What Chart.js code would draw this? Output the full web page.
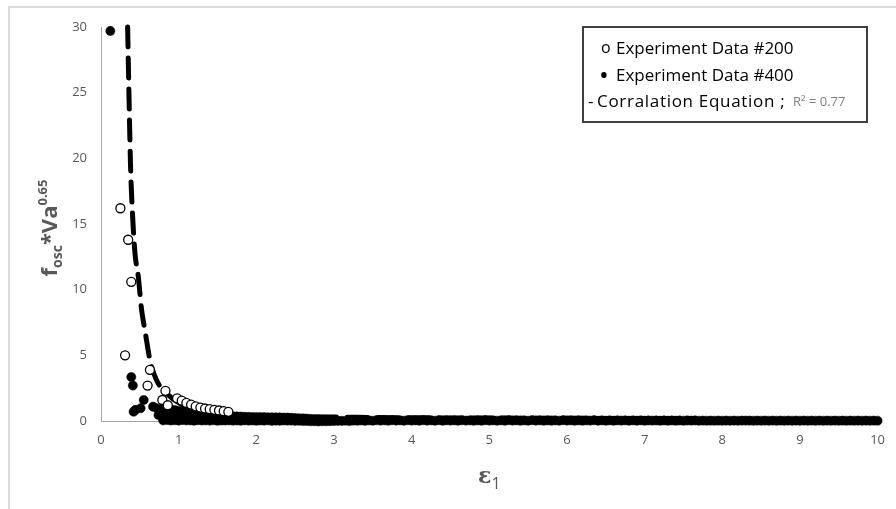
<!DOCTYPE html>
<html>
<head>
<meta charset="utf-8">
<script src="https://cdn.jsdelivr.net/npm/chart.js@4/dist/chart.umd.min.js"></script>
<style>
    body { margin: 0; background: #fff; }
    #wrap { position: relative; width: 896px; height: 509px; overflow: hidden; }
    #frame { position: absolute; left: 8px; top: 6px; width: 1000px; height: 1000px;
             border-left: 2px solid #dcdcdc; border-top: 2px solid #dcdcdc; }
    #oscChart { position: absolute; left: 0; top: 0; }
</style>
</head>
<body>
<div id="wrap">
    <div id="frame"></div>
    <canvas id="oscChart" width="896" height="509"></canvas>
</div>
<script>
/***************************************************************
 * DONNÉES
 ***************************************************************/
const xTicks = [0, 1, 2, 3, 4, 5, 6, 7, 8, 9, 10];
const yTicks = [0, 5, 10, 15, 20, 25, 30];

// Experiment Data #200 (cercles vides)
const exp200X = [0.25, 0.35, 0.39, 0.31, 0.60, 0.63, 0.83, 0.79, 0.86, 0.98,
                 1.04, 1.10, 1.16, 1.22, 1.28, 1.34, 1.40, 1.46, 1.52, 1.58, 1.64];
const exp200Y = [16.2, 13.8, 10.6, 5.0, 2.7, 3.9, 2.3, 1.6, 1.2, 1.73,
                 1.55, 1.38, 1.25, 1.12, 1.02, 0.95, 0.90, 0.85, 0.80, 0.75, 0.70];

// Experiment Data #400 (points pleins) : points isolés
const exp400X = [0.12, 0.39, 0.41, 0.42, 0.44, 0.51, 0.55, 0.67, 0.72, 0.74];
const exp400Y = [29.7, 3.35, 2.7, 0.71, 0.84, 0.97, 1.6, 1.09, 0.97, 0.46];

// #400 : bande dense, rang supérieur
const bandUpperX = [0.8, 0.85, 0.9, 0.95, 1.0, 1.05, 1.1, 1.15, 1.2, 1.25, 1.3, 1.35, 1.4, 1.45,
                    1.5, 1.55, 1.6, 1.65, 1.7, 1.75, 1.8, 1.85, 1.9, 1.95, 2.0, 2.05,
                    2.1, 2.15, 2.2, 2.25, 2.3, 2.35, 2.4, 2.45, 2.5, 2.55, 2.6, 2.65,
                    2.7, 2.75, 2.8, 2.85, 2.9, 2.95, 3.0];
const bandUpperY = [0.95, 0.92, 0.88, 0.83, 0.78, 0.74, 0.70, 0.66, 0.63, 0.60, 0.57, 0.53, 0.50, 0.47,
                    0.45, 0.42, 0.40, 0.38, 0.36, 0.35, 0.33, 0.32, 0.31, 0.30, 0.30, 0.29,
                    0.29, 0.28, 0.28, 0.27, 0.27, 0.26, 0.26, 0.24, 0.23, 0.21, 0.20, 0.18,
                    0.16, 0.14, 0.12, 0.11, 0.10, 0.09, 0.08];

// #400 : rang du milieu
const bandMidX = [0.8, 0.9, 1.0, 1.1, 1.2, 1.3, 1.4];
const bandMidY = [0.45, 0.42, 0.38, 0.35, 0.30, 0.28, 0.25];

// #400 : rang inférieur, de 0.8 à 10
const bandLowX = [0.8, 0.9, 1.0, 1.1, 1.2, 1.3, 1.4, 1.5, 1.6, 1.7, 1.8, 1.9,
                  2.0, 2.1, 2.2, 2.3, 2.4, 2.5, 2.6, 2.7, 2.8, 2.9,
                  3.0, 3.1, 3.2, 3.3, 3.4, 3.5, 3.6, 3.7, 3.8, 3.9,
                  4.0, 4.1, 4.2, 4.3, 4.4, 4.5, 4.6, 4.7, 4.8, 4.9,
                  5.0, 5.1, 5.2, 5.3, 5.4, 5.5, 5.6, 5.7, 5.8, 5.9,
                  6.0, 6.1, 6.2, 6.3, 6.4, 6.5, 6.6, 6.7, 6.8, 6.9,
                  7.0, 7.1, 7.2, 7.3, 7.4, 7.5, 7.6, 7.7, 7.8, 7.9,
                  8.0, 8.1, 8.2, 8.3, 8.4, 8.5, 8.6, 8.7, 8.8, 8.9,
                  9.0, 9.1, 9.2, 9.3, 9.4, 9.5, 9.6, 9.7, 9.8, 9.9, 10.0];
const bandLowY = [0.05, 0.04, 0.03, 0.05, 0.02, 0.04, 0.03, 0.02, 0.04, 0.03, 0.02, 0.03,
                  0.02, 0.03, 0.01, 0.02, 0.03, 0.01, 0.00, -0.02, -0.03, -0.02,
                  0.00, 0.01, 0.00, 0.02, 0.01, 0.02, 0.03, 0.02, 0.03, 0.02,
                  0.03, 0.02, 0.03, 0.02, 0.02, 0.03, 0.02, 0.03, 0.02, 0.02,
                  0.03, 0.02, 0.02, 0.03, 0.02, 0.02, 0.03, 0.02, 0.02, 0.02,
                  0.03, 0.02, 0.02, 0.03, 0.02, 0.02, 0.02, 0.03, 0.02, 0.02,
                  0.02, 0.03, 0.02, 0.02, 0.02, 0.02, 0.03, 0.02, 0.02, 0.02,
                  0.02, 0.02, 0.02, 0.03, 0.02, 0.02, 0.02, 0.02, 0.02, 0.02,
                  0.02, 0.02, 0.02, 0.02, 0.02, 0.02, 0.02, 0.02, 0.02, 0.02, 0.02];

// #400 : rang inférieur décalé (entre les précédents)
const bandLow2X = [0.85, 0.95, 1.05, 1.15, 1.25, 1.35, 1.45, 1.55, 1.65, 1.75, 1.85, 1.95,
                   2.05, 2.15, 2.25, 2.35, 2.45, 2.55, 2.65, 2.75, 2.85, 2.95,
                   3.05, 3.15, 3.25, 3.35, 3.45, 3.55, 3.65, 3.75, 3.85, 3.95,
                   4.05, 4.15, 4.25, 4.35, 4.45, 4.55, 4.65, 4.75, 4.85, 4.95,
                   5.05, 5.15, 5.25, 5.35, 5.45, 5.55, 5.65, 5.75, 5.85, 5.95,
                   6.05, 6.15, 6.25, 6.35, 6.45, 6.55, 6.65, 6.75, 6.85, 6.95,
                   7.05, 7.15, 7.25, 7.35, 7.45, 7.55, 7.65, 7.75, 7.85, 7.95,
                   8.05, 8.15, 8.25, 8.35, 8.45, 8.55, 8.65, 8.75, 8.85, 8.95,
                   9.05, 9.15, 9.25, 9.35, 9.45, 9.55, 9.65, 9.75, 9.85, 9.95];
const bandLow2Y = [0.08, 0.06, 0.07, 0.05, 0.06, 0.05, 0.06, 0.04, 0.05, 0.04, 0.05, 0.04,
                   0.04, 0.05, 0.03, 0.04, 0.03, 0.02, 0.00, -0.02, -0.02, -0.01,
                   0.01, 0.02, 0.03, 0.04, 0.05, 0.06, 0.05, 0.06, 0.05, 0.06,
                   0.05, 0.06, 0.05, 0.06, 0.05, 0.05, 0.06, 0.05, 0.05, 0.06,
                   0.05, 0.05, 0.06, 0.05, 0.05, 0.06, 0.05, 0.05, 0.05, 0.06,
                   0.05, 0.05, 0.05, 0.06, 0.05, 0.05, 0.05, 0.05, 0.05, 0.05,
                   0.04, 0.04, 0.04, 0.04, 0.04, 0.04, 0.04, 0.03, 0.03, 0.03,
                   0.03, 0.03, 0.03, 0.03, 0.03, 0.03, 0.03, 0.03, 0.03, 0.03,
                   0.03, 0.03, 0.03, 0.03, 0.03, 0.03, 0.03, 0.03, 0.03, 0.03];

// Corralation Equation (courbe en tirets)
const corrX = [0.343, 0.364, 0.382, 0.407, 0.437, 0.48, 0.523, 0.566, 0.63, 0.716,
               0.845, 1.015, 1.23, 1.5, 2.0, 2.6, 3.3, 4.3, 5.2, 6.3, 7.6];
const corrY = [30.0, 23.7, 19.1, 15.6, 12.8, 11.0, 8.45, 6.9, 4.65, 3.1,
               2.1, 1.35, 0.84, 0.6, 0.42, 0.33, 0.28, 0.24, 0.22, 0.20, 0.19];

const legendLabels = ["Experiment Data #200", "Experiment Data #400", "Corralation Equation ;"];
const r2Text = "R² = 0.77";

/***************************************************************
 * OUTILS
 ***************************************************************/
const toPoints = (xs, ys) => xs.map((x, i) => ({ x: x, y: ys[i] }));

const AXIS_GREY = "#595959";
const FONT = "'Open Sans', 'DejaVu Sans', sans-serif";

/***************************************************************
 * TITRES D'AXES + LÉGENDE (texte avec indices / exposants)
 ***************************************************************/
function drawRich(ctx, parts, x, y) {
    let cx = x;
    parts.forEach(p => {
        ctx.font = p.font;
        ctx.fillText(p.t, cx, y + (p.dy || 0));
        cx += ctx.measureText(p.t).width;
    });
    return cx - x;
}

function richWidth(ctx, parts) {
    let w = 0;
    parts.forEach(p => { ctx.font = p.font; w += ctx.measureText(p.t).width; });
    return w;
}

const extras = {
    id: "extras",
    afterDraw(chart) {
        const ctx = chart.ctx;
        const area = chart.chartArea;
        ctx.save();
        ctx.textBaseline = "alphabetic";
        ctx.textAlign = "left";

        // titre axe Y : f_osc*Va^0.65
        const yParts = [
            { t: "f", font: "bold 22px " + FONT },
            { t: "osc", font: "bold 14px " + FONT, dy: 5 },
            { t: "*Va", font: "bold 22px " + FONT },
            { t: "0.65", font: "bold 13px " + FONT, dy: -10 }
        ];
        ctx.fillStyle = AXIS_GREY;
        const yw = richWidth(ctx, yParts);
        ctx.translate(57, (area.top + area.bottom) / 2 + 4);
        ctx.rotate(-Math.PI / 2);
        drawRich(ctx, yParts, -yw / 2, 0);
        ctx.setTransform(1, 0, 0, 1, 0, 0);

        // titre axe X : ε1
        const xParts = [
            { t: "ε", font: "bold 22px 'DejaVu Serif', serif" },
            { t: "1", font: "16px " + FONT, dy: 6 }
        ];
        const xw = richWidth(ctx, xParts);
        drawRich(ctx, xParts, (area.left + area.right) / 2 - xw / 2, 483);

        // légende
        const bx = 583, by = 27, bw = 284, bh = 95;
        ctx.fillStyle = "#fff";
        ctx.fillRect(bx, by, bw, bh);
        ctx.strokeStyle = "#404040";
        ctx.lineWidth = 2;
        ctx.strokeRect(bx, by, bw, bh);

        ctx.fillStyle = "#000";
        ctx.font = "16px " + FONT;
        ctx.fillText("o", 601, 53);
        ctx.font = "17px " + FONT;
        ctx.fillText(legendLabels[0], 616, 54);
        ctx.font = "26px " + FONT;
        ctx.fillText("•", 599, 84);
        ctx.font = "17px " + FONT;
        ctx.fillText(legendLabels[1], 616, 81);
        ctx.fillText("-", 588, 107);
        ctx.letterSpacing = "0.7px";
        ctx.fillText(legendLabels[2], 597, 107);
        ctx.letterSpacing = "0px";
        ctx.font = "13px " + FONT;
        ctx.fillStyle = "#7f7f7f";
        ctx.fillText(r2Text, 793, 106);

        ctx.restore();
    }
};

/***************************************************************
 * GRAPHIQUE
 ***************************************************************/
const ctx = document.getElementById("oscChart");

new Chart(ctx, {
    type: "scatter",
    data: {
        datasets: [
            {
                label: legendLabels[0],
                data: toPoints(exp200X, exp200Y),
                pointStyle: "circle",
                pointRadius: 4.5,
                pointBackgroundColor: "#fff",
                pointBorderColor: "#000",
                pointBorderWidth: 1.3,
                clip: false,
                order: 1
            },
            {
                label: legendLabels[1],
                data: toPoints(exp400X, exp400Y)
                    .concat(toPoints(bandUpperX, bandUpperY))
                    .concat(toPoints(bandMidX, bandMidY))
                    .concat(toPoints(bandLowX, bandLowY))
                    .concat(toPoints(bandLow2X, bandLow2Y)),
                pointStyle: "circle",
                pointRadius: 4.6,
                pointBackgroundColor: "#000",
                pointBorderColor: "#000",
                pointBorderWidth: 0.5,
                clip: false,
                order: 2
            },
            {
                label: legendLabels[2],
                type: "line",
                data: toPoints(corrX, corrY),
                showLine: true,
                borderColor: "#000",
                borderWidth: 5,
                borderDash: [20, 11],
                borderCapStyle: "round",
                cubicInterpolationMode: "monotone",
                pointRadius: 0,
                fill: false,
                clip: false,
                order: 3
            }
        ]
    },
    options: {
        responsive: false,
        animation: false,
        devicePixelRatio: 1,
        layout: { padding: { left: 0, top: 27, right: 17, bottom: 0 } },
        plugins: {
            legend: { display: false },
            tooltip: { enabled: false }
        },
        scales: {
            x: {
                type: "linear",
                min: 0,
                max: 10,
                afterFit: s => { s.height = 88; },
                afterBuildTicks: s => { s.ticks = xTicks.map(v => ({ value: v })); },
                grid: { display: false, drawTicks: false },
                border: { display: true, color: "#a6a6a6", width: 1 },
                ticks: { color: AXIS_GREY, font: { family: FONT, size: 13 }, padding: 11 }
            },
            y: {
                type: "linear",
                min: 0,
                max: 30,
                afterFit: s => { s.width = 101; },
                afterBuildTicks: s => { s.ticks = yTicks.map(v => ({ value: v })); },
                grid: { display: false, drawTicks: false },
                border: { display: true, color: "#a6a6a6", width: 1 },
                ticks: { color: AXIS_GREY, font: { family: FONT, size: 13 }, padding: 14 }
            }
        }
    },
    plugins: [extras]
});
</script>
</body>
</html>
